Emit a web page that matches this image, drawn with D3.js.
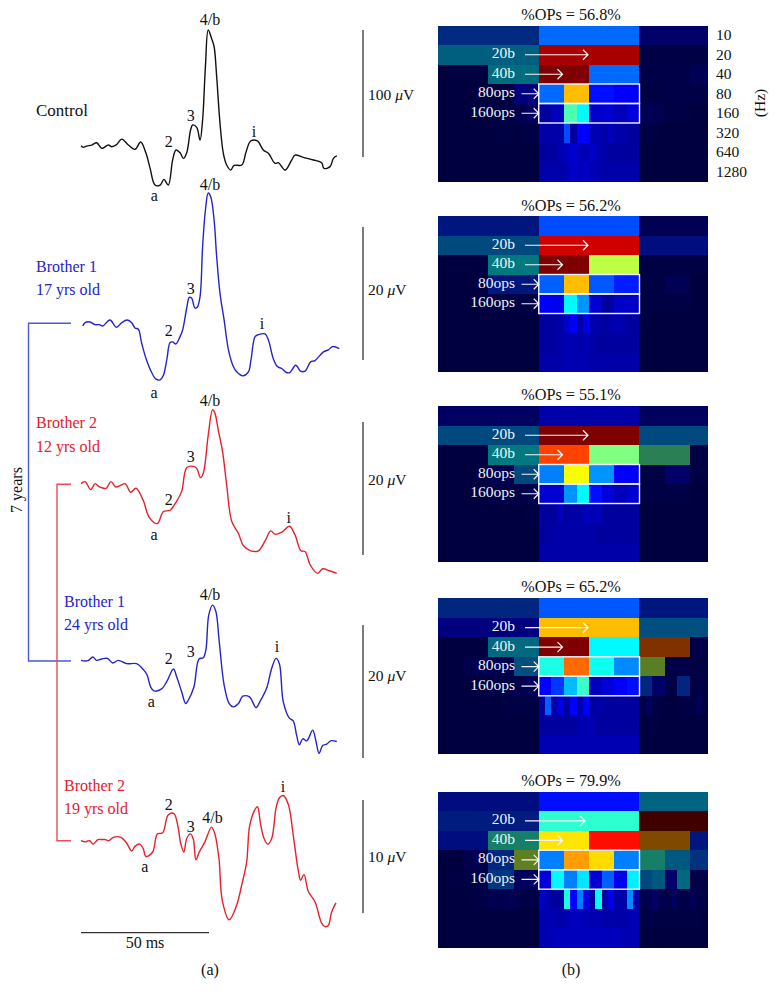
<!DOCTYPE html>
<html>
<head>
<meta charset="utf-8">
<script src="https://cdn.jsdelivr.net/npm/d3@7"></script>
<style>
body { margin: 0; background: #fff; }
text { font-family: "Liberation Serif", serif; }
</style>
</head>
<body>
<div id="chart"></div>
<script>
// Traces: [time in ms, amplitude in microvolts relative to the pre-stimulus baseline]
const controlTrace = [[0,0.8],[0.9,-0.5],[2.2,0.5],[4.2,1.3],[6.1,3.1],[8.1,-1.3],[10.7,1.3],[12,0],[13.9,1.6],[15.9,6],[18.5,1.3],[21.1,-2.1],[23.3,3.7],[25.4,-5.2],[27,-17.1],[28.9,-30.2],[30.9,-30.2],[32.4,-25.7],[34.1,-30.2],[35.8,-10.5],[37.1,-2.6],[38.7,-4.7],[40,-9.2],[41.3,-4.7],[42.8,13.1],[43.6,17.1],[45.2,15.2],[46.5,5.2],[47.5,21],[48.6,63],[49.7,91.9],[51,85.3],[52,78.7],[53,55.1],[54.3,18.4],[55.6,-5.2],[56.9,-14.4],[58.5,-18.4],[59.8,-14.7],[62.8,-14.4],[64.5,-3.9],[66.3,4.5],[68.9,4.5],[71.2,-2.6],[73.2,-5.2],[75.8,-13.1],[77.1,-12.6],[79.7,-18.4],[82.3,-10.5],[83.6,-6.6],[86.8,-8.4],[90.8,-10.5],[94,-12.6],[94.9,-17.1],[97.3,-15.7],[98.6,-9.2],[99.9,-7.3]];
const brother1Age17 = [[0.7,-0.4],[1.6,0.1],[3.5,0.2],[5.5,-0.2],[7.2,-0.2],[8.5,-0.4],[11.3,0.5],[13.9,-0.6],[15.9,0.1],[18.1,0.5],[19.8,0.1],[21.1,-0.7],[22.4,-0.9],[23.7,-3],[25.4,-5.3],[27.6,-7.4],[29.3,-8.4],[30.9,-8.5],[32.2,-7.8],[33.5,-5.5],[34.8,-2.9],[35.8,-2.8],[37.1,-3.1],[38.7,-2],[39.7,-1],[41.3,2.3],[42.3,3.9],[43.2,3.8],[44.5,2.3],[45.4,2.4],[46.5,4],[47.5,11.5],[48.6,17],[49.7,19.6],[50.7,19],[52,15.5],[53,10],[54.3,4.5],[55.9,0.5],[57.6,-4],[59.5,-6.5],[60.8,-7.3],[63.2,-7.9],[65.4,-7.3],[66.4,-5.5],[68,-2],[69.3,-1.7],[71.9,-1.6],[73.2,-2.5],[75.1,-5.3],[76.7,-6.5],[78.4,-6.8],[80.3,-7.4],[81.6,-7.4],[83.9,-6.3],[85.8,-7.2],[87.5,-7.2],[89.7,-5.8],[91.4,-5.6],[94.7,-4.3],[96.6,-4],[98.3,-3.5],[100.9,-3.8]];
const brother2Age12 = [[0,0.1],[1.6,0.4],[3.8,-0.8],[5.5,0.1],[7.2,-0.4],[9.8,-0.6],[11.7,0.4],[13.7,-0.4],[17.2,0.1],[19.4,-1.2],[21.5,-0.6],[24.3,-2.4],[26.7,-5],[29.8,-5.9],[32.2,-4.1],[34.8,-3.9],[37.1,-2.7],[39.3,-1.1],[41.3,2.5],[43.9,2.7],[45.2,2.4],[46.7,1],[47.8,1.7],[49.7,7.4],[51.4,11.2],[52.3,10.7],[53.6,8.2],[55.3,4.9],[56.9,-0.1],[58.9,-5.6],[61.5,-7.4],[63.4,-9.2],[66.3,-10],[69.3,-10],[71.9,-8.5],[74.1,-7],[75.8,-7.5],[78.8,-7.1],[81.4,-6.3],[83.6,-7.6],[85.9,-10],[87.5,-10.1],[89.5,-12.1],[92.4,-13.4],[94.4,-12.7],[97,-13],[99.9,-13.4]];
const brother1Age24 = [[0,0.1],[1.6,0],[2.9,0.1],[4.6,0.6],[6.1,0.1],[8.1,0.3],[10.3,0.4],[12.4,-0.3],[14.6,0.1],[17.8,-0.4],[21.7,-0.4],[23.7,-1],[25.7,-2],[27.2,-3.9],[28.5,-4.5],[31.5,-4.2],[33.5,-3.1],[36.1,-1.2],[37.4,-2.4],[39.3,-4.6],[40.9,-6.4],[41.9,-5.9],[44.1,-3.9],[46.1,0.3],[47.8,0.5],[48.8,1.7],[49.9,6.9],[51.4,8.4],[52.7,7.4],[54,2.9],[55.9,-3.6],[57.9,-6.4],[59.5,-6.9],[61.5,-6.4],[63.2,-5.3],[65.8,-5.4],[68.4,-7],[69.9,-6.1],[72.5,-4.1],[74.5,-1.1],[76.2,0.4],[77.5,-0.4],[79,-6.1],[81.4,-8.6],[82.9,-9],[84.2,-11.1],[85.3,-12.6],[86.6,-11.7],[88.2,-12],[90.5,-10.4],[91.8,-12.1],[93,-13.9],[94.4,-12.7],[96,-12.5],[97.5,-12],[99.9,-12.1]];
const brother2Age19 = [[0,0],[1.6,-0.1],[3.3,0],[4.8,-0.3],[6.6,0.1],[8.2,0.1],[9.5,0.1],[10.8,0],[12.6,0.3],[15.6,0.3],[17.8,-0.2],[19.8,-0.9],[21.1,-0.5],[23,-0.3],[24.3,-0.7],[25.4,-1.4],[28,-1],[29.8,0.6],[31.9,0.7],[34.1,2.3],[36.3,2.4],[38,1.1],[38.9,-0.2],[40.2,-1],[41.3,0.2],[42.8,0.6],[43.9,0.1],[44.9,-1.7],[46.2,-1],[48.4,-0.1],[51,1.2],[52.3,0.6],[53.9,-1.6],[55.2,-5.3],[57.9,-7],[60.8,-5.7],[62.8,-3.9],[64.7,-1.9],[65.8,1.2],[67.6,2.6],[68.9,3],[70.2,1.4],[71.5,0.2],[72.9,-0.3],[74.5,0.2],[76.2,2.9],[77.5,3.8],[79,4],[81,3.2],[82.9,0.5],[84.9,-2.7],[85.8,-3.5],[87.1,-3],[88.8,-4.5],[91.4,-5.4],[94,-7.3],[95.3,-7.6],[96.6,-7.5],[97.9,-6.3],[99.6,-5.5]];

// Peak labels: [text, ms, microvolts]
const controlPeaks = [["4/b",50.4,95.8],["3",42.9,19.9],["2",34.3,-0.3],["i",67.6,7.8],["a",28.6,-42.8]];
const brother1Age17Peaks = [["4/b",50.4,20],["3",42.9,4.4],["2",34.3,-1.9],["i",70.7,-0.9],["a",28.5,-11.2]];
const brother2Age12Peaks = [["4/b",50.4,11.8],["3",42.9,3.4],["2",34.3,-3.1],["i",81.1,-5.8],["a",28.5,-8.4]];
const brother1Age24Peaks = [["4/b",50.4,9.1],["3",42.9,0.6],["2",34.3,-0.5],["i",76.6,1.4],["a",27.5,-6.9]];
const brother2Age19Peaks = [["4/b",51.4,1.6],["3",42.9,0.8],["2",34.3,2.7],["i",78.9,4.3],["a",24.9,-2.8]];

const scaleBarValues = [100, 20, 20, 20, 10];
const opsPercent = ["56.8", "56.2", "55.1", "65.2", "79.9"];
const freqLabels = ["10", "20", "40", "80", "160", "320", "640", "1280"];
const bandLabels = ["20b", "40b", "80ops", "160ops"];

// Scalogram cells, percent along the jet colormap. Each row halves the cell width of the one above from 40 Hz on.
const panel1Cells = [
  [21,23,8],
  [31,96,1],
  [0,34,100,23,2,4],
  [0,0,0,13,23,69,14,12,1,2,2],
  [0,0,0,0,1,1,3,6,3,6,45,37,7,8,6,9,4,3,1,1,0,0],
  [0,0,0,0,0,0,0,0,0,1,1,1,0,1,1,1,4,4,4,4,20,3,13,13,5,5,4,6,4,4,3,3,1,1,1,0,0,0,0,0,0,0,0],
  [0,0,0,0,0,0,0,0,0,0,0,0,0,0,0,0,3,3,3,5,6,8,6,5,7,5,4,3,3,3,3,3,0,0,0,0,0,0,0,0,0,0,0],
  [0,0,0,0,0,0,0,0,0,0,0,0,0,0,0,0,4,4,4,4,5,7,6,7,5,5,4,4,4,4,4,4,0,0,0,0,0,0,0,0,0,0,0]
];
const panel2Cells = [
  [17,20,4],
  [27,92,15],
  [0,36,100,56,1,1],
  [0,0,16,16,22,69,21,15,1,4,0],
  [0,0,0,0,1,1,1,1,12,11,37,27,8,3,7,7,1,1,1,1,0,0],
  [0,0,0,0,0,0,0,0,0,0,0,0,0,0,0,0,3,3,3,4,7,12,4,10,5,4,3,4,5,4,3,3,1,1,0,0,0,0,0,0,0,0,0],
  [0,0,0,0,0,0,0,0,0,0,0,0,0,0,0,0,3,3,3,4,5,5,4,5,4,3,3,3,3,3,3,3,0,0,0,0,0,0,0,0,0,0,0],
  [0,0,0,0,0,0,0,0,0,0,0,0,0,0,0,0,4,4,4,4,5,5,5,5,4,4,4,4,4,4,4,4,0,0,0,0,0,0,0,0,0,0,0]
];
const panel3Cells = [
  [7,4,6],
  [27,100,27],
  [0,36,81,50,46,1],
  [0,0,3,27,25,62,27,12,1,8,1],
  [0,0,0,0,2,2,2,3,8,8,27,37,14,9,6,8,1,1,1,1,0,0],
  [0,0,0,0,0,0,0,0,0,0,0,0,0,0,1,1,3,3,3,6,3,4,4,6,5,6,3,3,3,3,3,3,0,0,0,0,0,0,0,0,0,0,0],
  [0,0,0,0,0,0,0,0,0,0,0,0,0,0,0,0,3,3,4,4,4,4,4,4,4,3,3,3,3,3,3,3,0,0,0,0,0,0,0,0,0,0,0],
  [0,0,0,0,0,0,0,0,0,0,0,0,0,0,0,0,4,4,4,4,4,4,4,4,4,4,4,4,4,4,4,4,0,0,0,0,0,0,0,0,0,0,0]
];
const panel4Cells = [
  [20,21,16],
  [13,69,28],
  [0,33,100,37,78,2],
  [0,3,3,28,40,77,39,26,55,2,1],
  [0,0,0,0,1,1,3,5,13,18,31,43,6,9,12,14,20,8,2,20,1,1],
  [0,0,0,0,0,0,0,0,0,0,1,1,1,1,1,1,3,22,4,10,3,13,4,13,3,4,3,3,3,3,3,3,1,6,1,1,0,0,1,1,1,4,1],
  [0,0,0,0,0,0,0,0,0,0,0,0,0,0,0,0,3,3,3,3,3,3,5,5,5,3,3,3,3,3,3,3,0,0,1,0,0,0,0,0,0,0,0],
  [0,0,0,0,0,0,0,0,0,0,0,0,0,0,0,0,5,5,5,5,5,5,5,5,5,5,5,5,5,5,5,5,0,0,0,0,0,0,0,0,0,0,0]
];
const panel5Cells = [
  [14,14,32],
  [18,42,100],
  [14,42,65,86,73,17],
  [0,3,20,56,25,72,66,25,42,30,22],
  [0,1,1,2,23,23,6,6,9,37,25,35,8,22,11,36,27,30,8,33,2,1],
  [0,0,0,0,0,1,1,2,3,3,3,4,3,2,2,1,7,4,3,3,40,13,25,10,4,38,4,10,4,4,26,4,3,3,8,3,2,6,2,2,5,2,1],
  [0,0,0,0,0,0,0,0,0,0,0,0,0,0,0,0,5,5,5,4,5,6,6,5,5,5,4,4,4,4,5,5,1,1,2,1,1,1,1,1,1,1,0],
  [0,0,0,0,0,0,0,0,0,0,0,0,0,0,0,0,5,5,6,6,6,6,6,6,6,6,6,6,6,5,5,5,0,0,0,0,0,0,0,0,0,0,0]
];

const panelCells = [panel1Cells, panel2Cells, panel3Cells, panel4Cells, panel5Cells];
const rowLevels = [0, 0, 1, 2, 3, 4, 4, 4];

const width = 778, height = 1003;
const black = "#111", blue = "#2424cc", red = "#e6202c";

const svg = d3.select("#chart").append("svg")
  .attr("width", width)
  .attr("height", height)
  .style("display", "block");

svg.append("rect").attr("width", width).attr("height", height).attr("fill", "#fff");

// ---- (a) waveforms
const time = d3.scaleLinear().domain([0, 50]).range([81, 209]);
const line = d3.line().curve(d3.curveCatmullRom.alpha(0.5));

const traces = [
  { points: controlTrace, peaks: controlPeaks, color: black, baseline: 146.7, pxPerUnit: 1.27, barTop: 30, barLabelY: 100 },
  { points: brother1Age17, peaks: brother1Age17Peaks, color: blue, baseline: 323.3, pxPerUnit: 6.65, barTop: 227, barLabelY: 295 },
  { points: brother2Age12, peaks: brother2Age12Peaks, color: red, baseline: 484.3, pxPerUnit: 6.65, barTop: 422, barLabelY: 485 },
  { points: brother1Age24, peaks: brother1Age24Peaks, color: blue, baseline: 661, pxPerUnit: 6.65, barTop: 625, barLabelY: 681 },
  { points: brother2Age19, peaks: brother2Age19Peaks, color: red, baseline: 840.7, pxPerUnit: 11.3, barTop: 800, barLabelY: 862 }
];

traces.forEach((trace, i) => {
  const amp = d3.scaleLinear().domain([0, 1]).range([trace.baseline, trace.baseline - trace.pxPerUnit]);

  svg.append("path")
    .attr("d", line(trace.points.map(d => [time(d[0]), amp(d[1])])))
    .attr("fill", "none")
    .attr("stroke", trace.color)
    .attr("stroke-width", 1.4)
    .attr("stroke-linejoin", "round");

  svg.append("g").selectAll("text").data(trace.peaks).join("text")
    .attr("x", d => time(d[1]))
    .attr("y", d => amp(d[2]))
    .attr("text-anchor", "middle")
    .attr("font-size", 16)
    .attr("fill", black)
    .text(d => d[0]);

  // vertical calibration bar, its length comes from the amplitude scale
  const barLength = amp(0) - amp(scaleBarValues[i]);
  svg.append("line")
    .attr("x1", 363).attr("x2", 363)
    .attr("y1", trace.barTop).attr("y2", trace.barTop + barLength)
    .attr("stroke", "#222").attr("stroke-width", 1.2);

  const barLabel = svg.append("text")
    .attr("x", 368)
    .attr("y", trace.barLabelY)
    .attr("font-size", 15.5)
    .attr("fill", black);
  barLabel.append("tspan").text(scaleBarValues[i] + " ");
  barLabel.append("tspan").attr("font-style", "italic").text("\u03bc");
  barLabel.append("tspan").text("V");
});

function addText(x, y, str, color, size = 16) {
  return svg.append("text")
    .attr("x", x).attr("y", y)
    .attr("font-size", size)
    .attr("fill", color)
    .text(str);
}

addText(36, 116, "Control", black, 17);
addText(36, 272, "Brother 1", blue);
addText(36, 295, "17 yrs old", blue);
addText(36, 428, "Brother 2", red);
addText(36, 452, "12 yrs old", red);
addText(64, 607, "Brother 1", blue);
addText(64, 630, "24 yrs old", blue);
addText(64, 791, "Brother 2", red);
addText(64, 814, "19 yrs old", red);

// brackets joining the recordings 7 years apart
const bracket = d3.line();
svg.append("path")
  .attr("d", bracket([[71, traces[1].baseline], [28.5, traces[1].baseline], [28.5, traces[3].baseline], [71, traces[3].baseline]]))
  .attr("fill", "none").attr("stroke", "#4a58dc").attr("stroke-width", 1.4);
svg.append("path")
  .attr("d", bracket([[71, traces[2].baseline], [57, traces[2].baseline], [57, traces[4].baseline], [71, traces[4].baseline]]))
  .attr("fill", "none").attr("stroke", "#ec4a55").attr("stroke-width", 1.4);

svg.append("text")
  .attr("transform", "translate(22,490) rotate(-90)")
  .attr("text-anchor", "middle")
  .attr("font-size", 16)
  .attr("fill", black)
  .text("7 years");

// time calibration bar
svg.append("line")
  .attr("x1", time(0)).attr("x2", time(50))
  .attr("y1", 932.7).attr("y2", 932.7)
  .attr("stroke", "#333").attr("stroke-width", 1.2);
addText(145, 948, "50 ms", black).attr("text-anchor", "middle");
addText(210, 975, "(a)", black).attr("text-anchor", "middle");

// ---- (b) scalograms
const jet = d3.scaleLinear()
  .domain([0, 12.5, 37.5, 62.5, 87.5, 100])
  .range(["#00007f", "#0000ff", "#00ffff", "#ffff00", "#ff0000", "#7f0000"]);

const panelTops = [25.5, 216, 406, 598.3, 791.7];
const panelTitleY = [20, 211, 400, 592, 786];
const panelHeight = 156;
const panelLeft = 438, panelRight = 707.5;

// one block is the width of the top row cell
const blocks = d3.scaleLinear().domain([0, 2.675]).range([panelLeft, panelRight]);

const defs = svg.append("defs");
defs.append("filter").attr("id", "soft")
  .attr("x", "-2%").attr("y", "-2%").attr("width", "104%").attr("height", "104%")
  .append("feGaussianBlur").attr("stdDeviation", 0.45);

panelCells.forEach((rows, p) => {
  const top = panelTops[p];
  const rowY = d3.scaleBand().domain(freqLabels).range([top, top + panelHeight]);
  const g = svg.append("g");

  svg.append("text")
    .attr("x", 571)
    .attr("y", panelTitleY[p])
    .attr("text-anchor", "middle")
    .attr("font-size", 16.2)
    .attr("fill", black)
    .text("%OPs = " + opsPercent[p] + "%");

  const heat = g.append("g").attr("filter", "url(#soft)").attr("shape-rendering", "crispEdges");

  heat.append("rect")
    .attr("x", panelLeft).attr("y", top)
    .attr("width", panelRight - panelLeft).attr("height", panelHeight)
    .attr("fill", jet(0));

  rows.forEach((row, r) => {
    const cellWidth = 1 / Math.pow(2, rowLevels[r]);
    heat.append("g").selectAll("rect").data(row).join("rect")
      .attr("x", (d, i) => blocks(i * cellWidth))
      .attr("y", rowY(freqLabels[r]))
      .attr("width", (d, i) => Math.min(blocks((i + 1) * cellWidth), panelRight) - blocks(i * cellWidth))
      .attr("height", rowY.bandwidth())
      .attr("fill", d => jet(d));
  });

  // everything outside the central 100 ms block is dimmed
  heat.append("rect")
    .attr("x", panelLeft).attr("y", top)
    .attr("width", blocks(1) - panelLeft).attr("height", panelHeight)
    .attr("fill", "#000").attr("opacity", 0.5);
  heat.append("rect")
    .attr("x", blocks(2)).attr("y", top)
    .attr("width", panelRight - blocks(2)).attr("height", panelHeight)
    .attr("fill", "#000").attr("opacity", 0.5);

  // 80 and 160 Hz oscillatory potential boxes
  ["80", "160"].forEach(f => {
    g.append("rect")
      .attr("x", blocks(1)).attr("y", rowY(f))
      .attr("width", blocks(2) - blocks(1)).attr("height", rowY.bandwidth())
      .attr("fill", "none").attr("stroke", "#f4f4ff").attr("stroke-width", 1.4);
  });

  // band labels and their arrows
  const arrowEnds = [p === 4 ? 585 : 588, 562.5, blocks(1), blocks(1)];
  const arrowStarts = [525, 525, 521.5, 521.5];
  const bandRows = ["20", "40", "80", "160"];
  bandLabels.forEach((label, k) => {
    const y = rowY(bandRows[k]) + rowY.bandwidth() / 2;
    const x0 = arrowStarts[k], x1 = arrowEnds[k];
    g.append("text")
      .attr("x", 515).attr("y", y + 3.5)
      .attr("text-anchor", "end")
      .attr("font-size", 15.5)
      .attr("fill", "#eef4f4")
      .text(label);
    g.append("path")
      .attr("d", `M${x0},${y}H${x1}M${x1 - 5},${y - 5}L${x1},${y}L${x1 - 5},${y + 5}`)
      .attr("fill", "none").attr("stroke", "#f6f6f6").attr("stroke-width", 1.2);
  });

  // frequency labels only beside the first panel
  if (p === 0) {
    svg.append("g").selectAll("text").data(freqLabels).join("text")
      .attr("x", 716)
      .attr("y", d => rowY(d) + rowY.bandwidth() / 2 + 5)
      .attr("font-size", 15.5)
      .attr("fill", black)
      .text(d => d);
    svg.append("text")
      .attr("transform", "translate(765,103) rotate(-90)")
      .attr("text-anchor", "middle")
      .attr("font-size", 15.5)
      .attr("fill", black)
      .text("(Hz)");
  }
});

addText(571, 975, "(b)", black).attr("text-anchor", "middle");
</script>
</body>
</html>
